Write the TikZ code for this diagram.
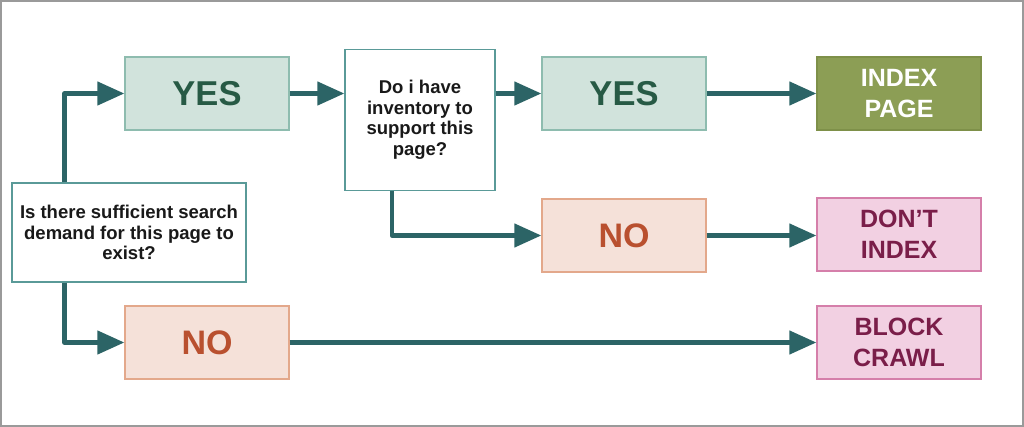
\documentclass[tikz,border=0pt]{standalone}
\usepackage{fontspec}
\setmainfont{Liberation Sans}
\usetikzlibrary{arrows.meta}
\definecolor{conncol}{HTML}{2C6466}
\definecolor{yesfill}{HTML}{D1E3DC}
\definecolor{yesdraw}{HTML}{8EBCAF}
\definecolor{yestext}{HTML}{275A45}
\definecolor{nofill}{HTML}{F5E1D9}
\definecolor{nodraw}{HTML}{E3A88B}
\definecolor{notext}{HTML}{B9502F}
\definecolor{idxfill}{HTML}{8C9E55}
\definecolor{idxdraw}{HTML}{7E9049}
\definecolor{pinkfill}{HTML}{F2D0E2}
\definecolor{pinkdraw}{HTML}{D57FAA}
\definecolor{pinktext}{HTML}{7A1E49}
\definecolor{qdraw}{HTML}{5A9A98}
\definecolor{framecol}{HTML}{9A9A9A}
\tikzset{
  box/.style={rectangle, minimum width=164pt, minimum height=73pt, line width=1.3pt, inner sep=0pt, align=center},
  yesbox/.style={box, fill=yesfill, draw=yesdraw, text=yestext, font=\bfseries\fontsize{34.5}{36}\selectfont},
  nobox/.style={box, fill=nofill, draw=nodraw, text=notext, font=\bfseries\fontsize{34}{36}\selectfont},
  idxbox/.style={box, fill=idxfill, draw=idxdraw, text=white, font=\bfseries\fontsize{25}{31}\selectfont},
  pinkbox/.style={box, fill=pinkfill, draw=pinkdraw, text=pinktext, font=\bfseries\fontsize{25}{31}\selectfont},
  qbox/.style={rectangle, fill=white, draw=qdraw, line width=1.3pt, inner sep=0pt, align=center, text=black!90, font=\bfseries\fontsize{18.5}{20.5}\selectfont},
  conn/.style={draw=conncol, line width=4.5pt, line join=round, -{Triangle[length=27pt,width=23pt]}}
}
\begin{document}
\begin{tikzpicture}[x=1pt,y=-1pt]
\useasboundingbox (0,0) rectangle (1024,427);
\draw[framecol, line width=2pt] (1,1) rectangle (1023,426);

\node[qbox, minimum width=234pt, minimum height=99pt] (q1) at (129,232.5) {Is there sufficient search\\demand for this page to\\exist?};
\node[yesbox] (yes1) at (207,93.5) {YES};
\node[nobox] (no1) at (207,342.5) {NO};
\node[qbox, minimum width=150pt, minimum height=141pt] (q2) at (420,120) {Do i have\\inventory to\\support this\\page?};
\node[yesbox] (yes2) at (624,93.5) {YES};
\node[nobox] (no2) at (624,235.5) {NO};
\node[idxbox] (idx) at (899,93.5) {INDEX\\PAGE};
\node[pinkbox] (dont) at (899,234.5) {DON’T\\INDEX};
\node[pinkbox] (block) at (899,342.5) {BLOCK\\CRAWL};

\draw[conn] ([xshift=53pt]q1.north west) |- (yes1.west);
\draw[conn] ([xshift=53pt]q1.south west) |- (no1.west);
\draw[conn] (yes1.east) -- (yes1.east -| q2.west);
\draw[conn] (yes2.west -| q2.east) -- (yes2.west);
\draw[conn] ([xshift=47.5pt]q2.south west) |- (no2.west);
\draw[conn] (yes2.east) -- (idx.west);
\draw[conn] (no2.east) -- (no2.east -| dont.west);
\draw[conn] (no1.east) -- (block.west);
\end{tikzpicture}
\end{document}
